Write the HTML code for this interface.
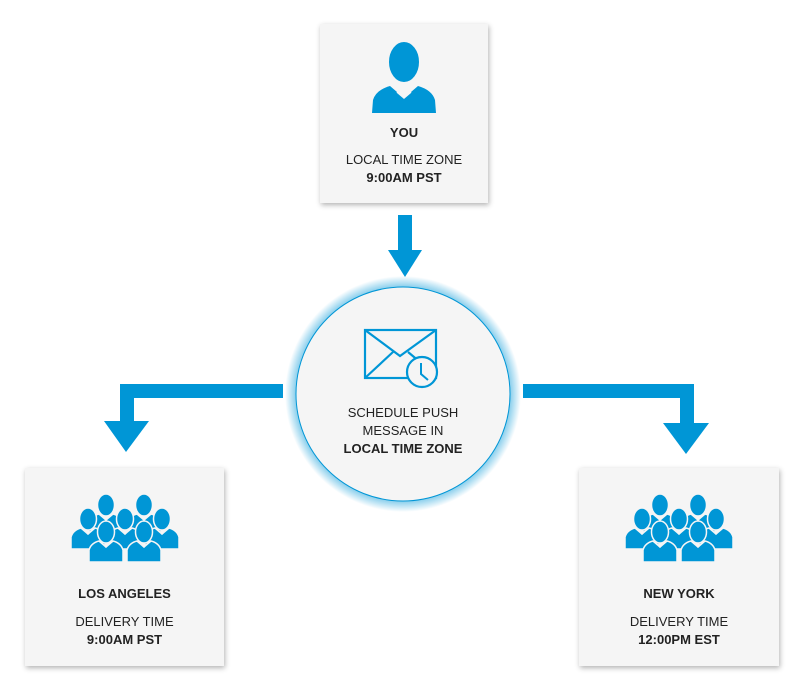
<!DOCTYPE html>
<html><head><style>
body{margin:0;width:804px;height:691px;background:#fff;position:relative;overflow:hidden;font-family:"Liberation Sans",sans-serif;color:#222}
.box{position:absolute;background:#f5f5f5;box-shadow:1px 2px 5px rgba(0,0,0,.3);text-align:center}
.t{position:absolute;left:0;right:0;font-size:13px;line-height:18px}
b{font-weight:bold}
</style></head><body>
<svg width="804" height="691" style="position:absolute;left:0;top:0">
<defs>
<radialGradient id="g" cx="50%" cy="50%" r="50%">
<stop offset="82%" stop-color="#0096d6" stop-opacity=".9"/>
<stop offset="100%" stop-color="#0096d6" stop-opacity="0"/>
</radialGradient>
<g id="p" stroke="#f5f5f5" stroke-width="1.5"><path d="M-17 24 L-17 12 Q-15 5 -7 3 L0 9 L7 3 Q15 5 17 12 L17 24Z" fill="#0096d6"/><ellipse cx="0" cy="-6" rx="8.5" ry="11" fill="#0096d6"/><path d="M-5 4 L0 9 L5 4" fill="none"/></g>
</defs>
<rect x="398" y="215" width="14" height="36" fill="#0096d6"/>
<polygon points="388,250 422,250 405,277" fill="#0096d6"/>
<path d="M283 384 H120 V422 H134 V398 H283Z" fill="#0096d6"/>
<polygon points="104,421 149,421 126,452" fill="#0096d6"/>
<path d="M523 384 H694 V424 H680 V398 H523Z" fill="#0096d6"/>
<polygon points="663,423 709,423 686,454" fill="#0096d6"/>
<circle cx="403" cy="394" r="118" fill="url(#g)"/>
<circle cx="403" cy="394" r="107" fill="#f5f5f5" stroke="#0096d6" stroke-width="1"/>
<g fill="none" stroke="#0096d6" stroke-width="2.2">
<rect x="365" y="330" width="71" height="48"/>
<path d="M365 330 L400 356 L436 330 M365 378 L393 352 M408 352 L420 362"/>
</g>
<circle cx="422" cy="372" r="15" fill="#f5f5f5" stroke="#0096d6" stroke-width="2.2"/>
<path d="M421 363 V374 L428 380" fill="none" stroke="#0096d6" stroke-width="2"/>
</svg>
<div class="box" style="left:320px;top:24px;width:168px;height:179px">
<svg width="168" height="100" style="position:absolute;left:0;top:0"><path d="M52 89 L53 76 Q56 66 70 62 L84 74 L98 62 Q112 66 115 76 L116 89Z" fill="#0096d6"/><path d="M77 68 L84 74 L91 68" fill="none" stroke="#f5f5f5" stroke-width="1.5"/><ellipse cx="84" cy="38" rx="16" ry="21" fill="#0096d6" stroke="#f5f5f5" stroke-width="2"/></svg>
<div class="t" style="top:100px"><b>YOU</b></div>
<div class="t" style="top:127px">LOCAL TIME ZONE<br><b>9:00AM PST</b></div>
</div>
<div class="t" style="left:296px;width:214px;right:auto;text-align:center;top:404px">SCHEDULE PUSH<br>MESSAGE IN<br><b>LOCAL TIME ZONE</b></div>
<div class="box" style="left:25px;top:468px;width:199px;height:198px">
<svg width="199" height="100" style="position:absolute;left:0;top:0"><g transform="translate(-25,0)">
<use href="#p" x="106" y="43"/><use href="#p" x="144" y="43"/>
<use href="#p" x="88" y="57"/><use href="#p" x="162" y="57"/><use href="#p" x="125" y="57"/>
<use href="#p" x="106" y="70"/><use href="#p" x="144" y="70"/></g></svg>
<div class="t" style="top:117px"><b>LOS ANGELES</b></div>
<div class="t" style="top:145px">DELIVERY TIME<br><b>9:00AM PST</b></div>
</div>
<div class="box" style="left:579px;top:468px;width:200px;height:198px">
<svg width="200" height="100" style="position:absolute;left:0;top:0"><g transform="translate(-25,0)">
<use href="#p" x="106" y="43"/><use href="#p" x="144" y="43"/>
<use href="#p" x="88" y="57"/><use href="#p" x="162" y="57"/><use href="#p" x="125" y="57"/>
<use href="#p" x="106" y="70"/><use href="#p" x="144" y="70"/></g></svg>
<div class="t" style="top:117px"><b>NEW YORK</b></div>
<div class="t" style="top:145px">DELIVERY TIME<br><b>12:00PM EST</b></div>
</div>
</body></html>
